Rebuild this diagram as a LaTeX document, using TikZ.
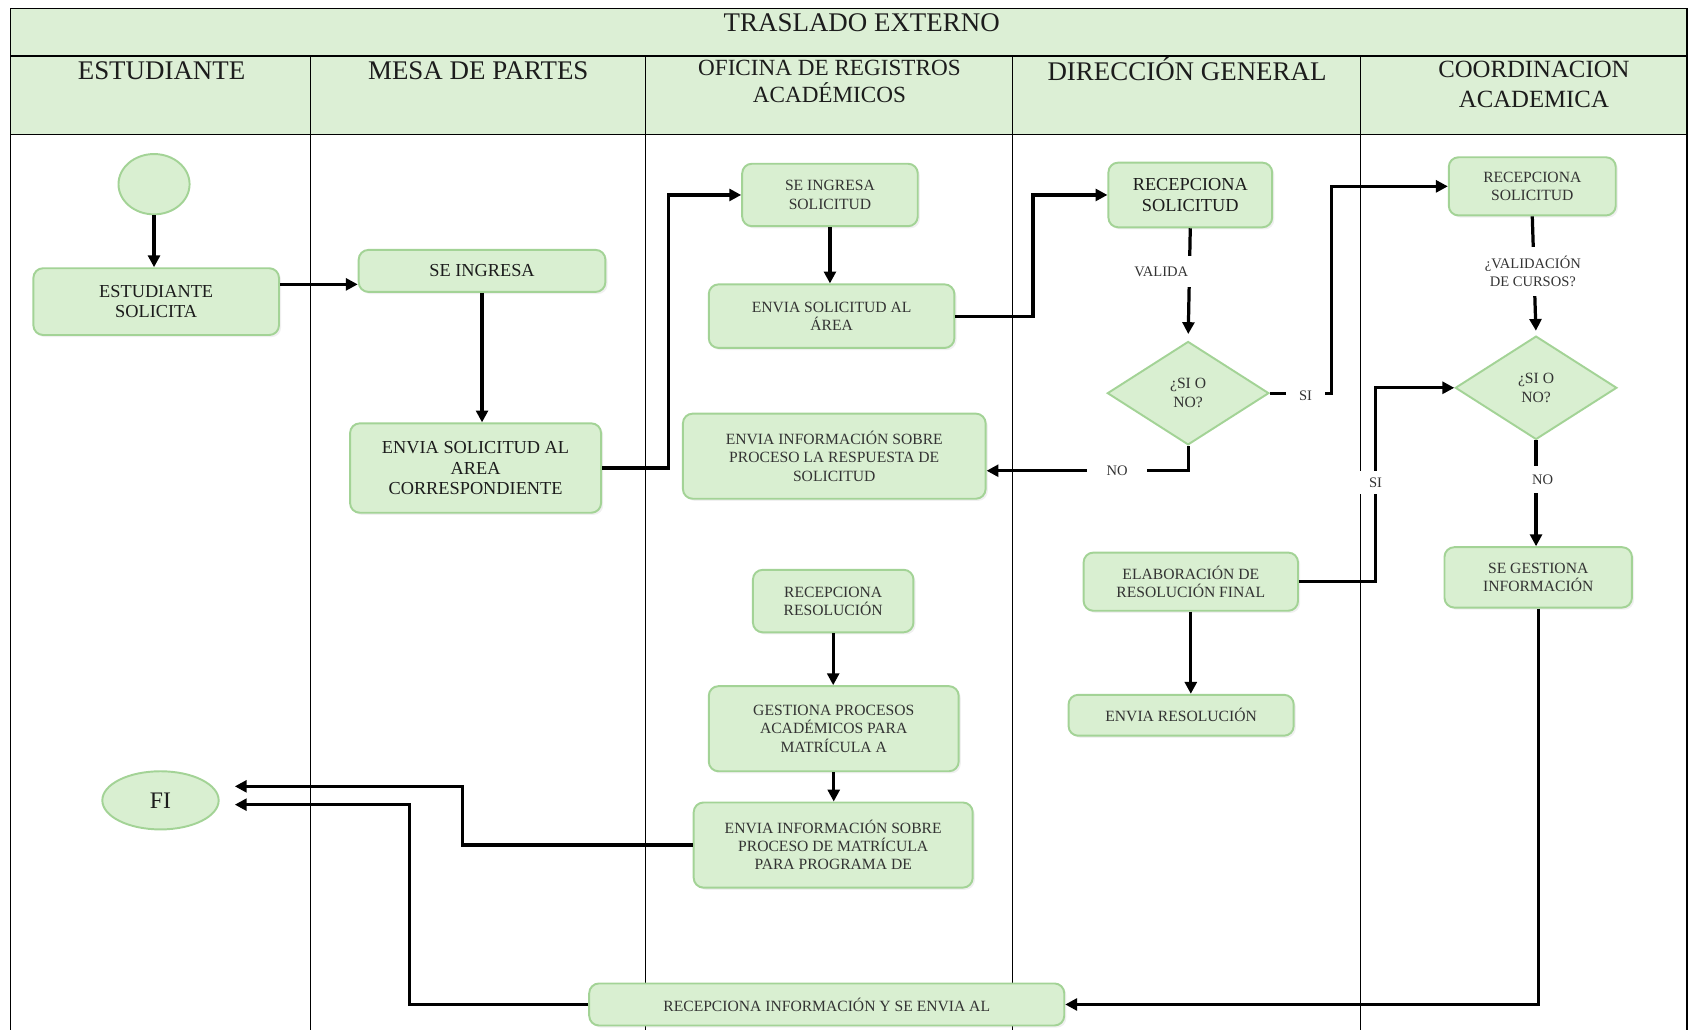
\documentclass[tikz,border=0pt]{standalone}
\usepackage{fontspec}
\setmainfont{Liberation Serif}
\usetikzlibrary{shapes.geometric,arrows.meta,shadows}
\definecolor{hdr}{HTML}{DCEFD5}
\definecolor{boxfill}{HTML}{D9EFD1}
\definecolor{boxline}{HTML}{A3D396}
\definecolor{txt}{HTML}{1C1C1C}
\definecolor{txtg}{HTML}{333333}
\tikzset{
  lane/.style={line width=1.3pt, draw=black},
  hd/.style={font=\fontsize{25}{28}\selectfont, text=txt, align=center, inner sep=0pt},
  box/.style={draw=boxline, fill=boxfill, line width=1.8pt, rounded corners=9pt,
    align=center, inner sep=2pt, text=txt,
    drop shadow={opacity=0.12, shadow xshift=2pt, shadow yshift=-2pt}},
  sm/.style={font=\fontsize{14.5}{17}\selectfont, text=txtg},
  md/.style={font=\fontsize{17}{19}\selectfont},
  dia/.style={diamond, draw=boxline, fill=boxfill, line width=1.8pt, inner sep=0pt,
    minimum width=150pt, minimum height=96pt, align=center, text=txtg,
    font=\fontsize{14.5}{18}\selectfont},
  elli/.style={ellipse, draw=boxline, fill=boxfill, line width=1.8pt, inner sep=0pt},
  arr/.style={line width=3pt, -{Triangle[length=11pt,width=11pt]}},
  lbl/.style={fill=white, font=\fontsize{13.5}{17}\selectfont, text=txtg, align=center}
}
\begin{document}
\begin{tikzpicture}[x=1pt,y=-1pt]
\useasboundingbox (0,0) rectangle (1568,956);
% header bands
\fill[hdr] (10,8) rectangle (1566,125);
\draw[lane] (10,956) -- (10,8) -- (1566,8) -- (1566,956);
\draw[lane] (10,52) -- (1566,52);
\draw[lane] (10,125) -- (1566,125);
\foreach \x in {288,599,940,1263} \draw[lane] (\x,52) -- (\x,956);
\node[hd] (title) at (800,21) {TRASLADO EXTERNO};
\node[hd] (h1) at (150,66) {ESTUDIANTE};
\node[hd] (h2) at (444,66) {MESA DE PARTES};
\node[hd, font=\fontsize{21.5}{25}\selectfont] (h3) at (770,76) {OFICINA DE REGISTROS\\ACADÉMICOS};
\node[hd] (h4) at (1102,64) {DIRECCIÓN GENERAL};
\node[hd, font=\fontsize{23}{28}\selectfont] (h5) at (1424,78) {COORDINACION\\ACADEMICA};

% nodes
\node[elli, minimum width=66pt, minimum height=56pt] (start) at (143,171) {};
\node[box, md, minimum width=228pt, minimum height=62pt] (es) at (145,280) {ESTUDIANTE\\SOLICITA};
\node[box, md, minimum width=229pt, minimum height=39pt] (si1) at (447.5,251.5) {SE INGRESA};
\node[box, md, minimum width=233pt, minimum height=83pt] (esa) at (441.5,434.5) {ENVIA SOLICITUD AL\\AREA\\CORRESPONDIENTE};
\node[box, sm, minimum width=163pt, minimum height=58pt] (sis) at (770.5,181) {SE INGRESA\\SOLICITUD};
\node[box, sm, minimum width=228pt, minimum height=59pt] (esa2) at (772,293.5) {ENVIA SOLICITUD AL\\ÁREA};
\node[box, sm, minimum width=281pt, minimum height=79pt] (eir) at (774.5,423.5) {ENVIA INFORMACIÓN SOBRE\\PROCESO LA RESPUESTA DE\\SOLICITUD};
\node[box, sm, minimum width=149pt, minimum height=58pt] (rr) at (773.5,558) {RECEPCIONA\\RESOLUCIÓN};
\node[box, sm, minimum width=232pt, minimum height=79pt] (gp) at (774,676.5) {GESTIONA PROCESOS\\ACADÉMICOS PARA\\MATRÍCULA A};
\node[box, sm, minimum width=259pt, minimum height=79pt] (eim) at (773.5,784.5) {ENVIA INFORMACIÓN SOBRE\\PROCESO DE MATRÍCULA\\PARA PROGRAMA DE};
\node[box, md, minimum width=152pt, minimum height=60pt] (rs1) at (1105,181) {RECEPCIONA\\SOLICITUD};
\node[dia] (d1) at (1103,365) {¿SI O\\NO?};
\node[box, sm, minimum width=199pt, minimum height=54pt] (erf) at (1105.5,540) {ELABORACIÓN DE\\RESOLUCIÓN FINAL};
\node[box, sm, minimum width=209pt, minimum height=38pt] (er) at (1096.5,664) {ENVIA RESOLUCIÓN};
\node[box, sm, minimum width=155pt, minimum height=54pt] (rs2) at (1422.5,173) {RECEPCIONA\\SOLICITUD};
\node[dia] (d2) at (1426,360) {¿SI O\\NO?};
\node[box, sm, minimum width=174pt, minimum height=56pt] (sg) at (1428,536) {SE GESTIONA\\INFORMACIÓN};
\node[box, sm, minimum width=441pt, minimum height=39pt] (ri) at (767.5,932.5) {RECEPCIONA INFORMACIÓN Y SE ENVIA AL};
\node[elli, minimum width=108pt, minimum height=54pt, font=\fontsize{22}{24}\selectfont, text=txt] (fi) at (149,743) {FI};
\coordinate (fiA) at (218,730);
\coordinate (fiB) at (218,747);

% connectors
\draw[arr] (start.south) -- (start.south |- es.north);
\draw[arr] (es.east |- 0,264) -- (si1.west |- 0,264);
\draw[arr] (si1.south) -- (si1.south |- esa.north);
\draw[arr] (esa.east) -- ++(62,0) |- (sis.west);
\draw[arr] (sis.south) -- (sis.south |- esa2.north);
\draw[arr] (esa2.east) -- ++(72,0) |- (rs1.west);
\draw[arr, shorten >=6pt] (rs1.south) -- (d1.north);
\node[lbl, inner xsep=7pt, inner ysep=10pt] (lv) at (1078,252) {VALIDA};
\draw[arr] (d1.south) -- (d1.south |- 0,437) -- (eir.east |- 0,437);
\node[lbl, inner xsep=18pt, inner ysep=3pt] (lno1) at (1037,437) {NO};
\draw[arr] (d1.east) -- (1236,365) |- (rs2.west);
\node[lbl, inner xsep=12pt, inner ysep=6pt] (lsi1) at (1212,367) {SI};
\draw[arr, shorten >=4pt] (rs2.south) -- (d2.north);
\node[lbl, inner xsep=2pt, inner ysep=8pt] (lvc) at (1423,252) {¿VALIDACIÓN\\DE CURSOS?};
\draw[arr] (d2.south) -- (d2.south |- sg.north);
\node[lbl, inner xsep=4pt, inner ysep=8pt] (lno2) at (1432,445) {NO};
\draw[arr] (erf.east) -- (1277,540) |- (d2.west);
\node[lbl, inner xsep=12pt, inner ysep=6pt] (lsi2) at (1277,448) {SI};
\draw[arr] (erf.south) -- (erf.south |- er.north);
\draw[arr] (rr.south) -- (rr.south |- gp.north);
\draw[arr] (gp.south) -- (gp.south |- eim.north);
\draw[arr] (eim.west) -- ++(-214,0) |- (fiA);
\draw[arr] (ri.west) -- ++(-166,0) |- (fiB);
\draw[arr] (sg.south) |- (ri.east);
\end{tikzpicture}
\end{document}
